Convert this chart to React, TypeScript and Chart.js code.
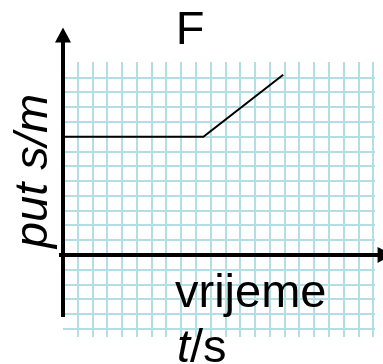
import { useEffect, useRef } from "react";
import { Chart, registerables } from "chart.js";

Chart.register(...registerables);

// data (time units, distance units)
const timeValues = [0, 9.5, 14.9];
const distanceValues = [8, 8, 12.2];

// grid tick values (one grid square = one unit)
const xGridTicks = [1, 2, 3, 4, 5, 6, 7, 8, 9, 10, 11, 12, 13, 14, 15, 16, 17, 18, 19, 20, 21];
const yGridTicks = [-5, -4, -3, -2, -1, 0, 1, 2, 3, 4, 5, 6, 7, 8, 9, 10, 11, 12];

// text
const titleText = "F";
const yLabelItalic = "put s/m";
const xLabelWord = "vrijeme";
const xLabelSymbol = "t";
const xLabelUnit = "/s";

// axis extents (in data units)
const xRange = [0, 21.11];
const yRange = [-5.55, 13.06];
const yAxisSpan = [-4.2, 15.4];
const xAxisSpan = [-0.27, 22.3];

const FONT = '"Liberation Sans", Arial, sans-serif';
const GRID = "rgb(178, 222, 228)";

export default function App() {
  const ref = useRef<HTMLCanvasElement>(null);

  useEffect(() => {
    document.body.style.margin = "0";
    const canvas = ref.current!;

    const axesPlugin = {
      id: "physAxes",
      afterDatasetsDraw(chart: any) {
        const { ctx } = chart;
        const xs = chart.scales.x;
        const ys = chart.scales.y;
        const x0 = xs.getPixelForValue(0);
        const y0 = ys.getPixelForValue(0);
        ctx.save();
        ctx.fillStyle = "#000";
        ctx.strokeStyle = "#000";
        ctx.lineWidth = 4;
        // y axis
        const yTip = ys.getPixelForValue(yAxisSpan[1]);
        ctx.beginPath();
        ctx.moveTo(x0, ys.getPixelForValue(yAxisSpan[0]));
        ctx.lineTo(x0, yTip + 12);
        ctx.stroke();
        ctx.beginPath();
        ctx.moveTo(x0, yTip);
        ctx.lineTo(x0 - 8, yTip + 15);
        ctx.lineTo(x0 + 8, yTip + 15);
        ctx.closePath();
        ctx.fill();
        // x axis
        const xTip = xs.getPixelForValue(xAxisSpan[1]);
        ctx.beginPath();
        ctx.moveTo(xs.getPixelForValue(xAxisSpan[0]), y0);
        ctx.lineTo(xTip - 12, y0);
        ctx.stroke();
        ctx.beginPath();
        ctx.moveTo(xTip, y0);
        ctx.lineTo(xTip - 15, y0 - 8);
        ctx.lineTo(xTip - 15, y0 + 8);
        ctx.closePath();
        ctx.fill();
        ctx.restore();
      },
      afterDraw(chart: any) {
        const { ctx } = chart;
        ctx.save();
        ctx.fillStyle = "#000";
        ctx.textBaseline = "alphabetic";
        // title
        ctx.font = `47px ${FONT}`;
        ctx.textAlign = "center";
        ctx.fillText(titleText, 190, 44);
        // x label
        ctx.textAlign = "left";
        ctx.fillText(xLabelWord, 175, 307);
        ctx.font = `italic 47px ${FONT}`;
        ctx.fillText(xLabelSymbol, 177, 362);
        const tw = ctx.measureText(xLabelSymbol).width;
        ctx.font = `47px ${FONT}`;
        ctx.fillText(xLabelUnit, 177 + tw, 362);
        // y label
        ctx.translate(47, 171);
        ctx.rotate(-Math.PI / 2);
        ctx.font = `italic 47px ${FONT}`;
        ctx.textAlign = "center";
        ctx.fillText(yLabelItalic, 0, 0);
        ctx.restore();
      },
    };

    const chart = new Chart(canvas, {
      type: "scatter",
      data: {
        datasets: [
          {
            data: timeValues.map((t, i) => ({ x: t, y: distanceValues[i] })),
            showLine: true,
            borderColor: "#000",
            borderWidth: 2,
            pointRadius: 0,
            fill: false,
          },
        ],
      },
      options: {
        responsive: false,
        animation: false,
        layout: { padding: { left: 63, top: 62, right: 8, bottom: 27 } },
        plugins: {
          legend: { display: false },
          tooltip: { enabled: false },
          title: { display: false },
        },
        scales: {
          x: {
            type: "linear",
            min: xRange[0],
            max: xRange[1],
            ticks: { display: false },
            grid: { color: GRID, lineWidth: 2, drawTicks: false },
            border: { display: false },
            afterBuildTicks: (scale: any) => {
              scale.ticks = xGridTicks.map((v) => ({ value: v }));
            },
          },
          y: {
            type: "linear",
            min: yRange[0],
            max: yRange[1],
            ticks: { display: false },
            grid: { color: GRID, lineWidth: 2, drawTicks: false },
            border: { display: false },
            afterBuildTicks: (scale: any) => {
              scale.ticks = yGridTicks.map((v) => ({ value: v }));
            },
          },
        },
      },
      plugins: [axesPlugin],
    });

    return () => chart.destroy();
  }, []);

  return (
    <div style={{ width: 383, height: 364 }}>
      <canvas ref={ref} width={383} height={364} style={{ display: "block" }} />
    </div>
  );
}
